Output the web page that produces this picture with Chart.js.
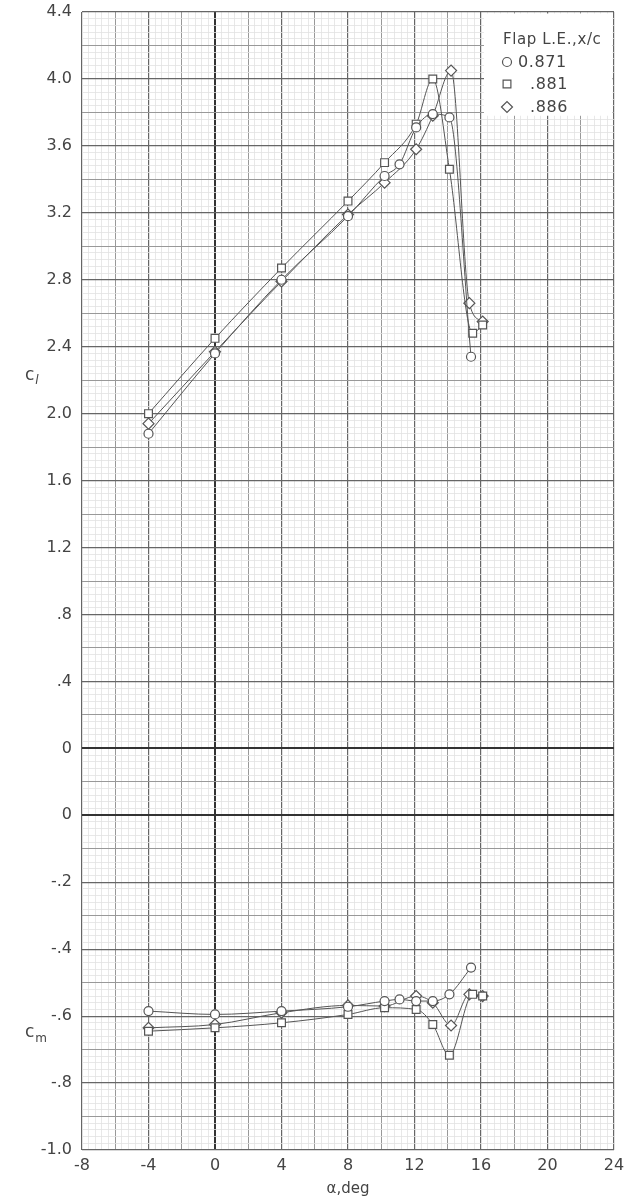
<!DOCTYPE html>
<html>
<head>
<meta charset="utf-8">
<script src="https://cdn.jsdelivr.net/npm/chart.js@4/dist/chart.umd.min.js"></script>
<style>
  html, body { margin: 0; padding: 0; background: #fff; }
  #wrap { width: 626px; height: 1202px; }
</style>
</head>
<body>
<div id="wrap"><canvas id="c" width="626" height="1202"></canvas></div>
<script>
// Angle of attack (deg), lift and pitching-moment coefficients per flap leading-edge position
const alphaCircle  = [-4, 0, 4, 8, 10.2, 11.1, 12.1, 13.1, 14.1, 15.4];
const clCircle     = [1.88, 2.36, 2.80, 3.18, 3.42, 3.49, 3.71, 3.79, 3.77, 2.34];
const cmCircle     = [-0.585, -0.595, -0.585, -0.572, -0.555, -0.55, -0.555, -0.555, -0.535, -0.455];

const alphaSquare  = [-4, 0, 4, 8, 10.2, 12.1, 13.1, 14.1, 15.5, 16.1];
const clSquare     = [2.00, 2.45, 2.87, 3.27, 3.50, 3.73, 4.00, 3.46, 2.48, 2.53];
const cmSquare     = [-0.645, -0.635, -0.62, -0.595, -0.575, -0.58, -0.625, -0.717, -0.535, -0.54];

const alphaDiamond = [-4, 0, 4, 8, 10.2, 12.1, 13.1, 14.2, 15.3, 16.1];
const clDiamond    = [1.94, 2.37, 2.79, 3.19, 3.38, 3.58, 3.78, 4.05, 2.66, 2.55];
const cmDiamond    = [-0.635, -0.625, -0.59, -0.568, -0.57, -0.54, -0.56, -0.628, -0.535, -0.54];

const seriesLabels = ['0.871', '.881', '.886'];
const legendTitle  = 'Flap L.E.,x/c';

// Tick labels (major divisions)
const xTickLabels  = ['-8', '-4', '0', '4', '8', '12', '16', '20', '24'];
const cmTickLabels = ['-1.0', '-.8', '-.6', '-.4', '-.2', '0'];
const clTickLabels = ['0', '.4', '.8', '1.2', '1.6', '2.0', '2.4', '2.8', '3.2', '3.6', '4.0', '4.4'];

const INK = '#444';
const FONT = 'DejaVu Sans';

function pts(xs, ys) { return xs.map((x, i) => ({ x: x, y: ys[i] })); }

const markerBase = {
  borderColor: '#555',
  backgroundColor: '#fff',
  pointBorderColor: '#555',
  pointBackgroundColor: '#fff',
  pointBorderWidth: 1.2,
  borderWidth: 1,
  cubicInterpolationMode: 'monotone',
  fill: false
};
const styles = [
  { pointStyle: 'circle', pointRadius: 4.5 },
  { pointStyle: 'rect', pointRadius: 5.5 },
  { pointStyle: 'rectRot', pointRadius: 5.5 }
];

const datasets = [
  Object.assign({ label: seriesLabels[0], data: pts(alphaCircle, clCircle), yAxisID: 'y' }, markerBase, styles[0]),
  Object.assign({ label: seriesLabels[1], data: pts(alphaSquare, clSquare), yAxisID: 'y' }, markerBase, styles[1]),
  Object.assign({ label: seriesLabels[2], data: pts(alphaDiamond, clDiamond), yAxisID: 'y' }, markerBase, styles[2]),
  Object.assign({ label: seriesLabels[0] + ' cm', data: pts(alphaCircle, cmCircle), yAxisID: 'yCm' }, markerBase, styles[0]),
  Object.assign({ label: seriesLabels[1] + ' cm', data: pts(alphaSquare, cmSquare), yAxisID: 'yCm' }, markerBase, styles[1]),
  Object.assign({ label: seriesLabels[2] + ' cm', data: pts(alphaDiamond, cmDiamond), yAxisID: 'yCm' }, markerBase, styles[2])
];

// Graph-paper rulings: 10 fine divisions per major cell, a medium line at the half
function gridColor(i, heavy) {
  if (heavy.indexOf(i) >= 0) return '#333';
  if (i % 10 === 0) return '#666';
  if (i % 5 === 0) return '#999';
  return '#e2e2e2';
}
function gridWidth(i, heavy) {
  if (heavy.indexOf(i) >= 0) return 2;
  if (i % 10 === 0) return 1.2;
  if (i % 5 === 0) return 1;
  return 0.8;
}

// cl axis spans -2.4..4.4; its lower six cells carry the cm labels (cm = (cl + 0.4) / 2)
const Y_HEAVY = [50, 60];
const X_HEAVY = [20];

const panelText = {
  id: 'panelText',
  afterDraw(chart) {
    const ctx = chart.ctx;
    const xs = chart.scales.x, ys = chart.scales.y;
    ctx.save();
    // Legend block in the upper-right corner
    const bx = xs.getPixelForValue(16) + 3;
    const by = chart.chartArea.top + 1.5;
    ctx.fillStyle = '#fff';
    ctx.fillRect(bx, by, chart.chartArea.right - 1.5 - bx, ys.getPixelForValue(3.78) - by);

    ctx.textBaseline = 'middle';
    ctx.textAlign = 'left';
    ctx.font = '15px "' + FONT + '"';
    if ('letterSpacing' in ctx) ctx.letterSpacing = '0.6px';
    ctx.fillStyle = INK;
    ctx.fillText(legendTitle, 503, 40);
    const rows = [62, 84, 107];
    const textX = [518, 530, 530];
    rows.forEach((y, k) => {
      ctx.fillStyle = '#fff';
      ctx.strokeStyle = '#555';
      ctx.lineWidth = 1.2;
      Chart.helpers.drawPoint(ctx, {
        pointStyle: styles[k].pointStyle,
        radius: styles[k].pointRadius,
        rotation: 0,
        borderWidth: 1.2
      }, 507, y);
      ctx.fillStyle = INK;
      ctx.font = '16px "' + FONT + '"';
      ctx.fillText(seriesLabels[k], textX[k], y + 1);
    });
    if ('letterSpacing' in ctx) ctx.letterSpacing = '0px';

    // Axis symbols c_l and c_m
    function coef(sub, x, y, italicSub) {
      ctx.fillStyle = INK;
      ctx.font = '17px "' + FONT + '"';
      ctx.fillText('c', x, y);
      const w = ctx.measureText('c').width;
      ctx.font = (italicSub ? 'italic ' : '') + '12px "' + FONT + '"';
      ctx.fillText(sub, x + w + 1, y + 6);
    }
    coef('l', 25, ys.getPixelForValue(2.23), true);
    coef('m', 25, ys.getPixelForValue(-1.7), false);
    ctx.restore();
  }
};

new Chart(document.getElementById('c'), {
  type: 'line',
  data: { datasets: datasets },
  options: {
    responsive: false,
    animation: false,
    devicePixelRatio: 1,
    layout: { padding: { left: 0, right: 12, top: 12, bottom: 0 } },
    plugins: { legend: { display: false }, tooltip: { enabled: false } },
    scales: {
      x: {
        type: 'linear', min: -8, max: 24,
        afterBuildTicks(s) { s.ticks = []; for (let i = 0; i <= 80; i++) s.ticks.push({ value: -8 + i * 0.4 }); },
        afterFit(s) { s.height = 52; s.paddingLeft = 0; s.paddingRight = 0; },
        ticks: {
          autoSkip: false, maxRotation: 0, minRotation: 0, padding: 6, color: INK,
          font: { family: FONT, size: 16 },
          callback: (v, i) => (i % 10 === 0 ? xTickLabels[i / 10] : '')
        },
        grid: {
          drawTicks: false,
          color: c => gridColor(c.index, X_HEAVY),
          lineWidth: c => gridWidth(c.index, X_HEAVY)
        },
        border: { display: false },
        title: { display: true, text: 'α,deg', color: INK, font: { family: FONT, size: 15 }, padding: { top: 0, bottom: 4 } }
      },
      y: {
        type: 'linear', position: 'left', min: -2.4, max: 4.4,
        afterBuildTicks(s) { s.ticks = []; for (let i = 0; i <= 170; i++) s.ticks.push({ value: -2.4 + i * 0.04 }); },
        afterFit(s) { s.width = 82; s.paddingTop = 0; s.paddingBottom = 0; },
        ticks: {
          autoSkip: false, padding: 10, color: INK,
          font: { family: FONT, size: 16 },
          callback: (v, i) => {
            if (i % 10 !== 0) return '';
            const k = i / 10;
            return k <= 5 ? cmTickLabels[k] : clTickLabels[k - 6];
          }
        },
        grid: {
          drawTicks: false,
          color: c => gridColor(c.index, Y_HEAVY),
          lineWidth: c => gridWidth(c.index, Y_HEAVY)
        },
        border: { display: false }
      },
      yCm: {
        type: 'linear', display: false, min: -1.0, max: 2.4
      }
    }
  },
  plugins: [panelText]
});
</script>
</body>
</html>
